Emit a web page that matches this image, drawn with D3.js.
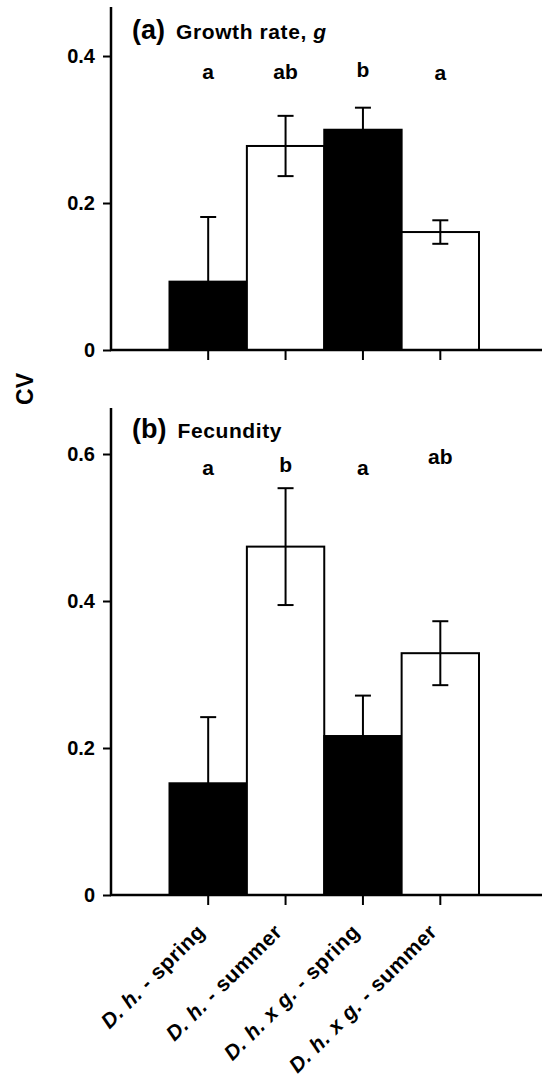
<!DOCTYPE html>
<html>
<head>
<meta charset="utf-8">
<script src="https://cdn.jsdelivr.net/npm/d3@7/dist/d3.min.js"></script>
<style>
  html, body { margin: 0; padding: 0; background: #fff; }
  svg { display: block; }
  text { font-family: "Liberation Sans", Arial, sans-serif; font-weight: bold; fill: #000; }
</style>
</head>
<body>
<svg id="chart" width="542" height="1089"></svg>
<script>
// ---- data ----
const categories = ["D. h. - spring", "D. h. - summer", "D. h. x g. - spring", "D. h. x g. - summer"];
const labelItalic = ["D. h.", "D. h.", "D. h. x g.", "D. h. x g."];
const labelRest = [" - spring", " - summer", " - spring", " - summer"];
const barFill = ["#000", "#fff", "#000", "#fff"];

const growthMean = [0.093, 0.2776, 0.2997, 0.1605];
const growthErr = [0.088, 0.041, 0.030, 0.016];
const growthLetters = ["a", "ab", "b", "a"];
const growthLetterY = [0.379, 0.379, 0.381, 0.378];
const growthTicks = [0, 0.2, 0.4];

const fecMean = [0.152, 0.474, 0.2163, 0.329];
const fecErr = [0.090, 0.0795, 0.055, 0.0435];
const fecLetters = ["a", "b", "a", "ab"];
const fecLetterY = [0.582, 0.585, 0.582, 0.597];
const fecTicks = [0, 0.2, 0.4, 0.6];

// ---- layout ----
const svg = d3.select("#chart");
const axisX = 111;
const axisRight = 542;

const x = d3.scaleBand().domain(categories).range([169.5, 479]).padding(0);

const panels = [
  { mean: growthMean, err: growthErr, letters: growthLetters, letterY: growthLetterY, ticks: growthTicks,
    y: d3.scaleLinear().domain([0, 0.4667]).range([350, 7]),
    tag: "(a)", title: "Growth rate, ", titleItalic: "g", titleY: 39 },
  { mean: fecMean, err: fecErr, letters: fecLetters, letterY: fecLetterY, ticks: fecTicks,
    y: d3.scaleLinear().domain([0, 0.6626]).range([895, 408]),
    tag: "(b)", title: "Fecundity", titleItalic: "", titleY: 438 }
];

panels.forEach((p, pi) => {
  const g = svg.append("g");
  const y = p.y;
  const y0 = y(0);

  // bars
  g.selectAll("rect.bar").data(p.mean).join("rect")
    .attr("class", "bar")
    .attr("x", (d, i) => x(categories[i]))
    .attr("y", d => y(d))
    .attr("width", x.bandwidth())
    .attr("height", d => y0 - y(d))
    .attr("fill", (d, i) => barFill[i])
    .attr("stroke", "#000")
    .attr("stroke-width", 2);

  // error bars
  const cx = i => x(categories[i]) + x.bandwidth() / 2;
  const eg = g.append("g").attr("stroke", "#000").attr("stroke-width", 2).attr("fill", "none");
  p.mean.forEach((m, i) => {
    const hi = y(m + p.err[i]), lo = y(m - p.err[i]);
    eg.append("line").attr("x1", cx(i)).attr("x2", cx(i)).attr("y1", hi).attr("y2", lo);
    eg.append("line").attr("x1", cx(i) - 8).attr("x2", cx(i) + 8).attr("y1", hi).attr("y2", hi);
    eg.append("line").attr("x1", cx(i) - 8).attr("x2", cx(i) + 8).attr("y1", lo).attr("y2", lo);
  });

  // letters
  g.selectAll("text.sig").data(p.letters).join("text")
    .attr("class", "sig")
    .attr("x", (d, i) => cx(i))
    .attr("y", (d, i) => y(p.letterY[i]))
    .attr("dy", "0.35em")
    .attr("text-anchor", "middle")
    .style("font-size", "21px")
    .text(d => d);

  // y axis
  const yAxis = d3.axisLeft(y).tickValues(p.ticks)
    .tickFormat(d => d === 0 ? "0" : d3.format(".1f")(d))
    .tickSize(8).tickSizeOuter(0).tickPadding(8);
  const ya = g.append("g").attr("transform", `translate(${axisX},0)`).call(yAxis);
  ya.select(".domain").remove();
  ya.selectAll(".tick line").attr("stroke", "#000").attr("stroke-width", 2);
  ya.selectAll(".tick text").style("font-size", "20px").style("font-family", "Liberation Sans, Arial, sans-serif").style("font-weight", "bold");
  g.append("line").attr("x1", axisX).attr("x2", axisX)
    .attr("y1", y.range()[1]).attr("y2", y0 + 1)
    .attr("stroke", "#000").attr("stroke-width", 2.5);

  // x axis
  const xAxis = d3.axisBottom(x).tickSize(10).tickSizeOuter(0).tickFormat("");
  const xa = g.append("g").attr("transform", `translate(0,${y0})`).call(xAxis);
  xa.select(".domain").remove();
  xa.selectAll(".tick line").attr("stroke", "#000").attr("stroke-width", 2);
  g.append("line").attr("x1", axisX - 1).attr("x2", axisRight)
    .attr("y1", y0).attr("y2", y0)
    .attr("stroke", "#000").attr("stroke-width", 2.5);

  // panel title
  const t = g.append("text").attr("x", 132).attr("y", p.titleY);
  t.append("tspan").style("font-size", "27px").text(p.tag);
  t.append("tspan").attr("dx", 11).style("font-size", "21px").style("letter-spacing", "0.6px").text(p.title);
  if (p.titleItalic) t.append("tspan").style("font-size", "21px").style("font-style", "italic").text(p.titleItalic);

  // category labels for bottom panel
  if (pi === 1) {
    const lg = g.append("g");
    categories.forEach((c, i) => {
      const tx = cx(i) - 2, ty = y0 + 38;
      const lt = lg.append("text")
        .attr("transform", `translate(${tx},${ty}) rotate(-45)`)
        .attr("text-anchor", "end")
        .style("font-size", "21px")
        .style("letter-spacing", "0.6px");
      lt.append("tspan").style("font-style", "italic").text(labelItalic[i]);
      lt.append("tspan").text(labelRest[i]);
    });
  }
});

// shared y label
svg.append("text")
  .attr("transform", "translate(33,389) rotate(-90)")
  .attr("text-anchor", "middle")
  .style("font-size", "23px")
  .text("CV");
</script>
</body>
</html>
